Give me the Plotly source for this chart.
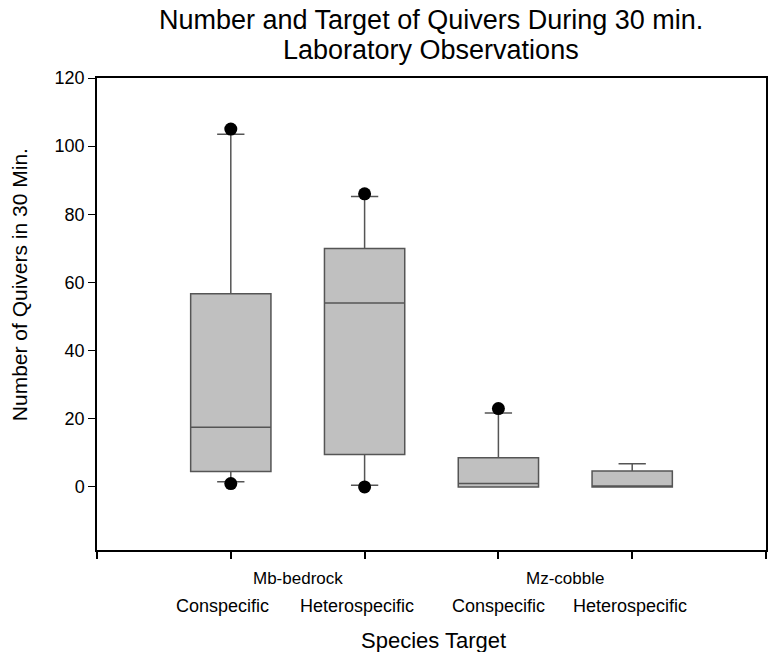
import plotly.graph_objects as go

# Box statistics per species-target group (quivers in 30 min)
positions = [1, 2, 3, 4]
q1 = [4.5, 9.5, 0.0, 0.0]
median = [17.5, 54.0, 1.0, 0.0]
q3 = [56.7, 70.0, 8.6, 4.7]
lower_whisker = [1.5, 0.5, 0.0, 0.0]
upper_whisker = [103.5, 85.2, 21.7, 6.8]

# Points beyond the whiskers
outlier_x = [1, 1, 2, 2, 3]
outlier_y = [105.0, 1.0, 86.0, 0.0, 23.0]

target_labels = ["Conspecific", "Heterospecific", "Conspecific", "Heterospecific"]
habitat_labels = ["Mb-bedrock", "Mz-cobble"]
habitat_centers = [1.5, 3.5]
y_ticks = [0, 20, 40, 60, 80, 100, 120]

FONT = "Liberation Sans, Arial, sans-serif"

fig = go.Figure()
fig.add_trace(go.Box(
    x=positions,
    q1=q1,
    median=median,
    q3=q3,
    lowerfence=lower_whisker,
    upperfence=upper_whisker,
    boxpoints=False,
    width=0.6,
    whiskerwidth=0.34,
    fillcolor="#c0c0c0",
    line=dict(color="#555555", width=1.5),
    hoverinfo="skip",
    showlegend=False,
))
fig.add_trace(go.Scatter(
    x=outlier_x,
    y=outlier_y,
    mode="markers",
    marker=dict(color="black", size=13),
    hoverinfo="skip",
    showlegend=False,
))


def note(text, x, y, size, xref="paper", xshift=0, yshift=0, angle=0):
    return dict(
        x=x, y=y, xref=xref, yref="paper", xshift=xshift, yshift=yshift,
        text=text, showarrow=False, xanchor="center", yanchor="middle",
        textangle=angle, font=dict(family=FONT, size=size, color="black"),
    )


# small horizontal nudges for the lower category row
label_nudge = [-8, -8, 0, -2]

annotations = []
for pos, lab, dx in zip(positions, target_labels, label_nudge):
    annotations.append(note(lab, pos, 0, 18, xref="x", xshift=dx, yshift=-56))
for pos, lab in zip(habitat_centers, habitat_labels):
    annotations.append(note(lab, pos, 0, 17, xref="x", yshift=-28))
annotations.append(note("Species Target", 0.503, 0, 22, yshift=-90))
annotations.append(note("Number and Target of Quivers During 30 min.", 0.499, 1, 27, yshift=58))
annotations.append(note("Laboratory Observations", 0.499, 1, 27, yshift=28))
annotations.append(note("Number of Quivers in 30 Min.", 0, 0.561, 21, xshift=-78, angle=-90))

fig.update_layout(
    width=770,
    height=652,
    margin=dict(l=97, r=2, t=78, b=102),
    paper_bgcolor="white",
    plot_bgcolor="white",
    font=dict(family=FONT, color="black"),
    annotations=annotations,
    xaxis=dict(
        range=[0, 5],
        tickvals=[0, 1, 2, 3, 4, 5],
        ticktext=["", "", "", "", "", ""],
        ticks="outside", ticklen=7, tickwidth=1.5, tickcolor="black",
        showline=True, linecolor="black", linewidth=1.5, mirror=True,
        showgrid=False, zeroline=False,
    ),
    yaxis=dict(
        range=[-18.5, 120],
        tickvals=y_ticks,
        ticks="outside", ticklen=7, tickwidth=1, tickcolor="black",
        tickfont=dict(family=FONT, size=18, color="black"),
        showline=True, linecolor="black", linewidth=1.5, mirror=True,
        showgrid=False, zeroline=False,
    ),
)

fig.write_html("out.html")
